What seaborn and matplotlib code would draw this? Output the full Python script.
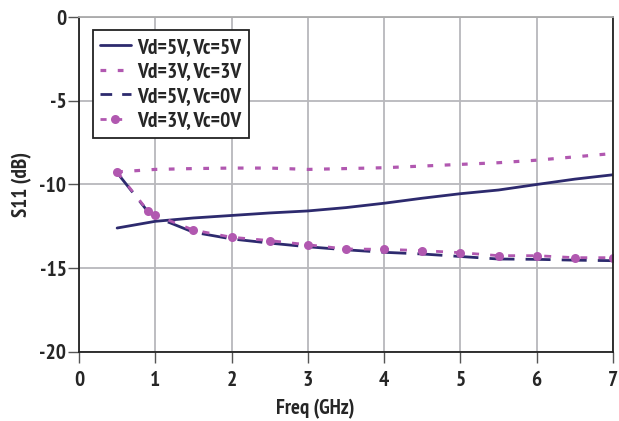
import matplotlib
matplotlib.use("Agg")
import matplotlib.pyplot as plt
from matplotlib import font_manager as fm
import seaborn as sns
import pandas as pd

freq_55 = [0.5, 1.0, 1.5, 2.0, 2.5, 3.0, 3.5, 4.0, 4.5, 5.0, 5.5, 6.0, 6.5, 7.0]
s11_55 = [-12.6, -12.2, -12.0, -11.85, -11.7, -11.58, -11.38, -11.12, -10.82, -10.55, -10.33, -10.0, -9.68, -9.42]

freq_33 = [0.5, 1.0, 1.5, 2.0, 2.5, 3.0, 3.5, 4.0, 4.5, 5.0, 5.5, 6.0, 6.5, 7.0]
s11_33 = [-9.25, -9.1, -9.05, -9.02, -9.02, -9.1, -9.05, -9.0, -8.9, -8.8, -8.7, -8.55, -8.35, -8.15]

freq_50 = [0.5, 0.9, 1.0, 1.2, 1.5, 2.0, 2.5, 3.0, 3.5, 4.0, 4.5, 5.0, 5.5, 6.0, 6.5, 7.0]
s11_50 = [-9.3, -11.6, -11.95, -12.3, -12.85, -13.25, -13.5, -13.72, -13.9, -14.05, -14.15, -14.3, -14.45, -14.47, -14.52, -14.55]

freq_30 = [0.5, 0.9, 1.0, 1.5, 2.0, 2.5, 3.0, 3.5, 4.0, 4.5, 5.0, 5.5, 6.0, 6.5, 7.0]
s11_30 = [-9.25, -11.56, -11.82, -12.72, -13.15, -13.35, -13.6, -13.85, -13.87, -13.95, -14.07, -14.25, -14.25, -14.37, -14.37]

labels = ["Vd=5V, Vc=5V", "Vd=3V, Vc=3V", "Vd=5V, Vc=0V", "Vd=3V, Vc=0V"]
x_ticks = [0, 1, 2, 3, 4, 5, 6, 7]
y_ticks = [0, -5, -10, -15, -20]

navy = "#2d2a6e"
pink = "#b158b0"

sns.set_style("white")
available = set(f.name for f in fm.fontManager.ttflist)
preferred = ["PT Sans Narrow", "Asap Condensed", "Roboto Condensed", "Archivo Narrow",
             "Liberation Sans Narrow", "DejaVu Sans Condensed"]
chosen = [f for f in preferred if f in available][:1]
fam = chosen + ["DejaVu Sans"]
plt.rcParams["font.family"] = fam

fig = plt.figure(figsize=(6.19, 4.21), dpi=100)
ax = fig.add_axes([0.1276, 0.164, 0.8627, 0.7956])

d55 = pd.DataFrame({"f": freq_55, "s": s11_55})
d33 = pd.DataFrame({"f": freq_33, "s": s11_33})
d50 = pd.DataFrame({"f": freq_50, "s": s11_50})
d30 = pd.DataFrame({"f": freq_30, "s": s11_30})

sns.lineplot(data=d55, x="f", y="s", ax=ax, color=navy, lw=2, label=labels[0])
sns.lineplot(data=d33, x="f", y="s", ax=ax, color=pink, lw=2.3, label=labels[1],
             linestyle=(0, (1.8, 3.6)))
sns.lineplot(data=d50, x="f", y="s", ax=ax, color=navy, lw=2, label=labels[2],
             linestyle=(0, (9, 4)))
sns.lineplot(data=d30, x="f", y="s", ax=ax, color=pink, lw=2, label=labels[3],
             linestyle=(0, (2.5, 4)), marker="o", markersize=6.5, markeredgewidth=0)

ax.set_xlim(0, 7)
ax.set_ylim(-20, 0)
ax.set_xticks(x_ticks)
ax.set_yticks(y_ticks)
ax.set_xticklabels([str(t) for t in x_ticks], fontsize=15.5, fontweight="bold")
ax.set_yticklabels([str(t) for t in y_ticks], fontsize=15.5, fontweight="bold")
ax.grid(True, color="#b8b8bc", lw=1.3)
ax.tick_params(axis="x", length=8, width=1, color="#555555", direction="out", pad=6)
ax.tick_params(axis="y", length=8, width=1, color="#555555", direction="out", pad=1)
ax.tick_params(axis="both", bottom=True, left=True)
ax.set_xlabel("Freq (GHz)", fontsize=15, fontweight="bold")
ax.set_ylabel("S11 (dB)", fontsize=15, fontweight="bold")
ax.xaxis.set_label_coords(0.442, -0.14)
ax.yaxis.set_label_coords(-0.088, 0.5)
for s in ["left", "bottom", "right"]:
    ax.spines[s].set_color("#222222")
    ax.spines[s].set_linewidth(1.3)
ax.spines["top"].set_color("#aaaaaa")
ax.spines["top"].set_linewidth(1.3)

leg = ax.legend(loc="upper left", bbox_to_anchor=(0.026, 0.96),
                prop={"weight": "bold", "size": 15.5, "family": fam}, frameon=True, fancybox=False,
                borderpad=0.35, labelspacing=0.25, handlelength=1.4, handletextpad=0.3,
                borderaxespad=0.0, numpoints=1)
leg.get_frame().set_edgecolor("#222222")
leg.get_frame().set_linewidth(1.3)
leg.get_frame().set_alpha(1)
leg_lines = leg.get_lines()
leg_lines[2].set_linestyle((0, (4.2, 3.6)))
leg_lines[3].set_linestyle((0, (2.2, 3.4)))

fig.savefig("out.png", dpi=100)
